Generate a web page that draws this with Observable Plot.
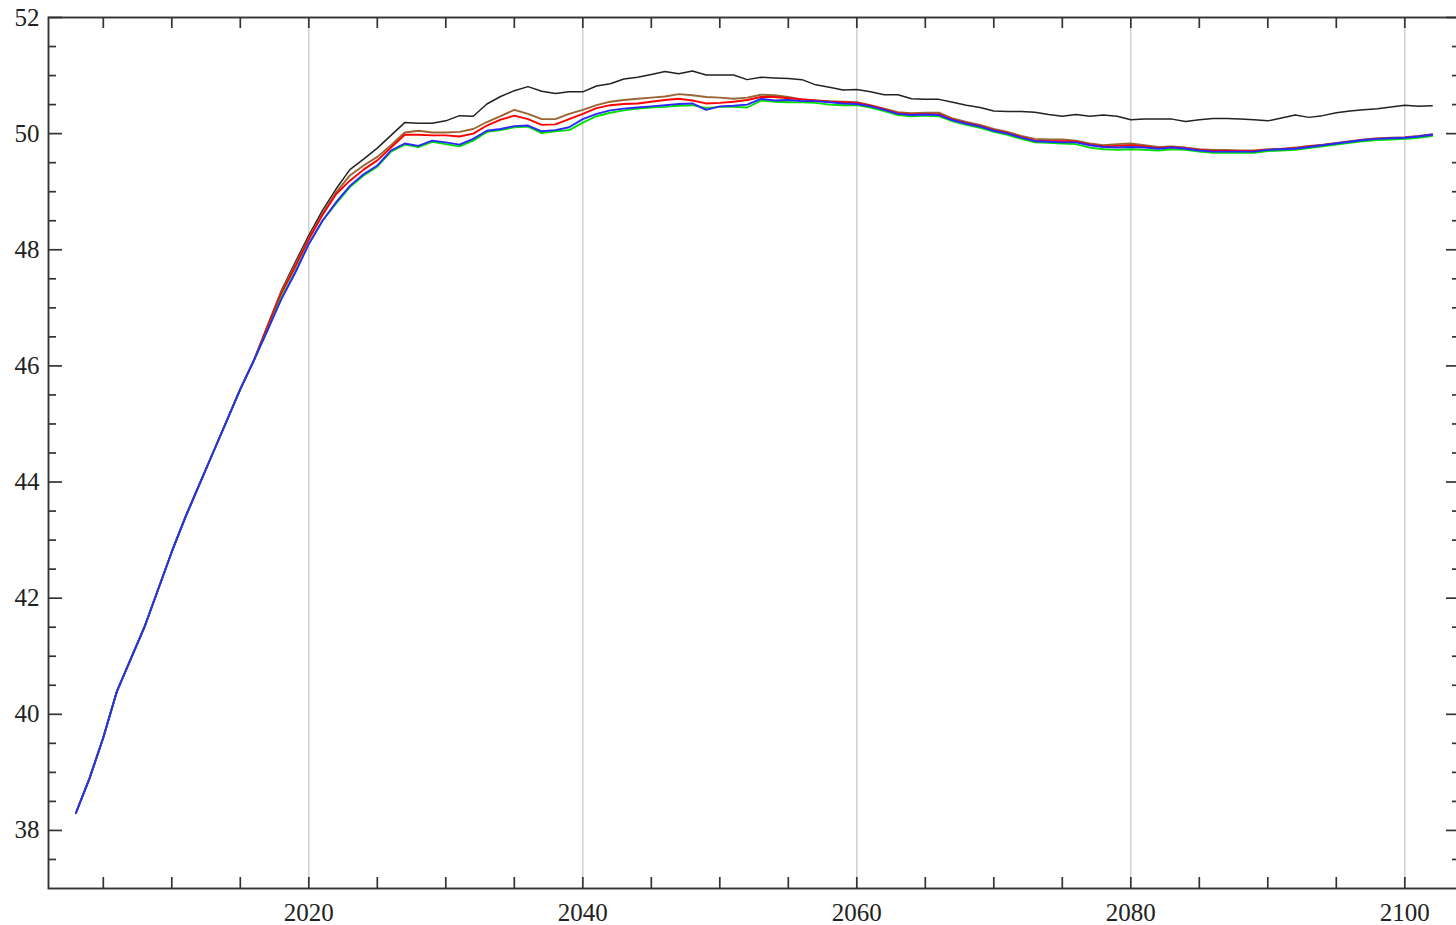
<!DOCTYPE html>
<html>
<head>
<meta charset="utf-8">
<script src="https://cdn.jsdelivr.net/npm/d3@7"></script>
<script src="https://cdn.jsdelivr.net/npm/@observablehq/plot@0.6"></script>
<style>
  html, body { margin: 0; padding: 0; background: #fff; overflow: hidden; }
  #chart svg { display: block; overflow: hidden; }
</style>
</head>
<body>
<div id="chart"></div>
<script>
const years = [
  2003,2004,2005,2006,2007,2008,2009,2010,2011,2012,2013,2014,2015,2016,2017,2018,2019,2020,
  2021,2022,2023,2024,2025,2026,2027,2028,2029,2030,2031,2032,2033,2034,2035,2036,2037,2038,2039,2040,
  2041,2042,2043,2044,2045,2046,2047,2048,2049,2050,2051,2052,2053,2054,2055,2056,2057,2058,2059,2060,
  2061,2062,2063,2064,2065,2066,2067,2068,2069,2070,2071,2072,2073,2074,2075,2076,2077,2078,2079,2080,
  2081,2082,2083,2084,2085,2086,2087,2088,2089,2090,2091,2092,2093,2094,2095,2096,2097,2098,2099,2100,
  2101,2102
];

const blackSeries = [
  38.30,38.90,39.60,40.40,40.95,41.50,42.15,42.80,43.40,43.95,44.50,45.05,45.60,46.10,
  46.70,47.30,47.78,48.25,
  48.68,49.05,49.38,49.56,49.75,49.97,50.19,50.18,50.18,50.22,50.31,50.30,50.51,50.64,50.74,50.81,50.73,50.69,50.72,50.72,
  50.82,50.86,50.94,50.97,51.02,51.07,51.03,51.08,51.01,51.01,51.01,50.93,50.97,50.96,50.95,50.93,50.84,50.80,50.75,50.76,
  50.72,50.67,50.67,50.60,50.59,50.59,50.54,50.49,50.45,50.39,50.38,50.38,50.37,50.33,50.30,50.33,50.30,50.32,50.30,50.24,
  50.25,50.25,50.25,50.21,50.24,50.26,50.26,50.25,50.24,50.22,50.27,50.32,50.28,50.31,50.36,50.39,50.41,50.43,50.46,50.49,
  50.47,50.48
];

const brownSeries = [
  38.30,38.90,39.60,40.40,40.95,41.50,42.15,42.80,43.40,43.95,44.50,45.05,45.60,46.10,
  46.70,47.28,47.74,48.20,
  48.62,48.99,49.28,49.45,49.60,49.80,50.02,50.05,50.02,50.02,50.03,50.08,50.20,50.30,50.41,50.34,50.25,50.25,50.34,50.41,
  50.49,50.55,50.58,50.60,50.62,50.64,50.68,50.66,50.63,50.62,50.60,50.62,50.67,50.66,50.63,50.59,50.57,50.56,50.55,50.54,
  50.49,50.43,50.37,50.35,50.36,50.36,50.26,50.20,50.15,50.08,50.03,49.96,49.91,49.90,49.90,49.88,49.83,49.80,49.82,49.83,
  49.80,49.77,49.78,49.76,49.73,49.72,49.72,49.71,49.71,49.73,49.74,49.76,49.79,49.81,49.84,49.87,49.90,49.92,49.93,49.94,
  49.96,49.99
];

const redSeries = [
  38.30,38.90,39.60,40.40,40.95,41.50,42.15,42.80,43.40,43.95,44.50,45.05,45.60,46.10,
  46.68,47.25,47.70,48.18,
  48.60,48.96,49.19,49.38,49.54,49.76,49.98,49.98,49.97,49.97,49.95,50.00,50.14,50.24,50.31,50.25,50.15,50.16,50.25,50.34,
  50.44,50.49,50.51,50.52,50.55,50.58,50.60,50.57,50.52,50.53,50.55,50.58,50.63,50.63,50.61,50.59,50.57,50.55,50.54,50.53,
  50.48,50.42,50.35,50.33,50.34,50.33,50.24,50.18,50.13,50.06,50.01,49.94,49.88,49.87,49.87,49.86,49.81,49.78,49.79,49.80,
  49.78,49.75,49.77,49.75,49.72,49.70,49.70,49.70,49.70,49.72,49.73,49.75,49.78,49.80,49.83,49.86,49.89,49.91,49.92,49.93,
  49.95,49.98
];

const greenSeries = [
  38.30,38.90,39.60,40.40,40.95,41.50,42.15,42.80,43.40,43.95,44.50,45.05,45.60,46.10,
  46.62,47.18,47.62,48.10,
  48.50,48.80,49.08,49.28,49.43,49.69,49.81,49.77,49.86,49.82,49.78,49.88,50.03,50.06,50.11,50.12,50.01,50.04,50.06,50.19,
  50.30,50.36,50.40,50.43,50.45,50.46,50.48,50.49,50.44,50.46,50.46,50.45,50.57,50.55,50.54,50.54,50.53,50.50,50.49,50.49,
  50.45,50.39,50.32,50.30,50.31,50.30,50.21,50.15,50.10,50.03,49.98,49.91,49.85,49.84,49.83,49.82,49.76,49.73,49.72,49.73,
  49.72,49.71,49.73,49.72,49.69,49.67,49.67,49.67,49.67,49.70,49.71,49.72,49.75,49.78,49.81,49.84,49.87,49.89,49.90,49.91,
  49.93,49.96
];

const blueSeries = [
  38.30,38.90,39.60,40.40,40.95,41.50,42.15,42.80,43.40,43.95,44.50,45.05,45.60,46.10,
  46.62,47.15,47.60,48.10,
  48.50,48.82,49.10,49.30,49.45,49.71,49.83,49.79,49.88,49.85,49.81,49.91,50.05,50.08,50.13,50.14,50.04,50.06,50.11,50.25,
  50.34,50.40,50.43,50.45,50.47,50.49,50.51,50.52,50.41,50.47,50.48,50.50,50.60,50.57,50.58,50.56,50.56,50.54,50.52,50.51,
  50.47,50.41,50.34,50.32,50.33,50.32,50.23,50.17,50.12,50.05,50.00,49.93,49.87,49.86,49.85,49.85,49.80,49.77,49.76,49.77,
  49.76,49.74,49.76,49.74,49.71,49.69,49.69,49.69,49.69,49.72,49.73,49.74,49.77,49.80,49.83,49.86,49.89,49.91,49.92,49.93,
  49.95,49.98
];

const seriesNames = ["black", "brown", "red", "green", "blue"];
const seriesColors = ["#222222", "#996633", "#ff0000", "#00e000", "#2a2aff"];
const seriesWidths = [1.5, 1.9, 1.9, 1.9, 1.9];
const seriesValues = [blackSeries, brownSeries, redSeries, greenSeries, blueSeries];

const xLabelTicks = [2020, 2040, 2060, 2080, 2100];
const xMinorTicks = [2005, 2010, 2015, 2020, 2025, 2030, 2035, 2040, 2045, 2050, 2055, 2060, 2065, 2070, 2075, 2080, 2085, 2090, 2095, 2100];
const yLabelTicks = [38, 40, 42, 44, 46, 48, 50, 52];
const yMinorTicks = [37.5, 38.5, 39, 39.5, 40.5, 41, 41.5, 42.5, 43, 43.5, 44.5, 45, 45.5, 46.5, 47, 47.5, 48.5, 49, 49.5, 50.5, 51, 51.5];

const W = 1456, H = 925;
const mL = 48, mT = 17, mB = 37, mR = -4;
const frameW = W - mL - mR, frameH = H - mT - mB;
const frameColor = "#333333";
const font = "'Liberation Serif', 'Times New Roman', serif";

const marks = [];
// grid
marks.push(Plot.ruleX(xLabelTicks, {x: d => d, stroke: "#c8c8c8", strokeWidth: 1.3}));
// series lines
seriesValues.forEach((vals, i) => {
  const rows = years.map((yr, j) => ({year: yr, value: vals[j], series: seriesNames[i]}));
  marks.push(Plot.line(rows, {x: "year", y: "value", stroke: seriesColors[i], strokeWidth: seriesWidths[i], curve: "linear"}));
});
// ticks on x (bottom & top)
marks.push(Plot.tickX(xMinorTicks, {x: d => d, insetTop: frameH - 11, stroke: frameColor, strokeWidth: 1.7}));
marks.push(Plot.tickX(xMinorTicks, {x: d => d, insetBottom: frameH - 11, stroke: frameColor, strokeWidth: 1.7}));
// ticks on y (left & right)
marks.push(Plot.tickY(yLabelTicks, {y: d => d, insetRight: frameW - 14, stroke: frameColor, strokeWidth: 1.7}));
marks.push(Plot.tickY(yMinorTicks, {y: d => d, insetRight: frameW - 8, stroke: frameColor, strokeWidth: 1.7}));
marks.push(Plot.tickY(yLabelTicks, {y: d => d, insetLeft: frameW - 14, stroke: frameColor, strokeWidth: 1.7}));
marks.push(Plot.tickY(yMinorTicks, {y: d => d, insetLeft: frameW - 8, stroke: frameColor, strokeWidth: 1.7}));
// frame
marks.push(Plot.frame({stroke: frameColor, strokeWidth: 1.9}));
// labels
marks.push(Plot.text(xLabelTicks, {x: d => d, frameAnchor: "bottom", dy: 32, text: d => String(d), fontSize: 25, fill: "#222", fontFamily: font}));
marks.push(Plot.text(yLabelTicks, {y: d => d, frameAnchor: "left", dx: -9, textAnchor: "end", text: d => String(d), fontSize: 25, fill: "#222", fontFamily: font}));

const chart = Plot.plot({
  width: W,
  height: H,
  marginLeft: mL,
  marginTop: mT,
  marginBottom: mB,
  marginRight: mR,
  x: {domain: [2001, 2001 + frameW / 13.7], axis: null},
  y: {domain: [37, 52], axis: null},
  style: {background: "#fff", fontFamily: font},
  marks
});
document.getElementById("chart").appendChild(chart);
</script>
</body>
</html>
